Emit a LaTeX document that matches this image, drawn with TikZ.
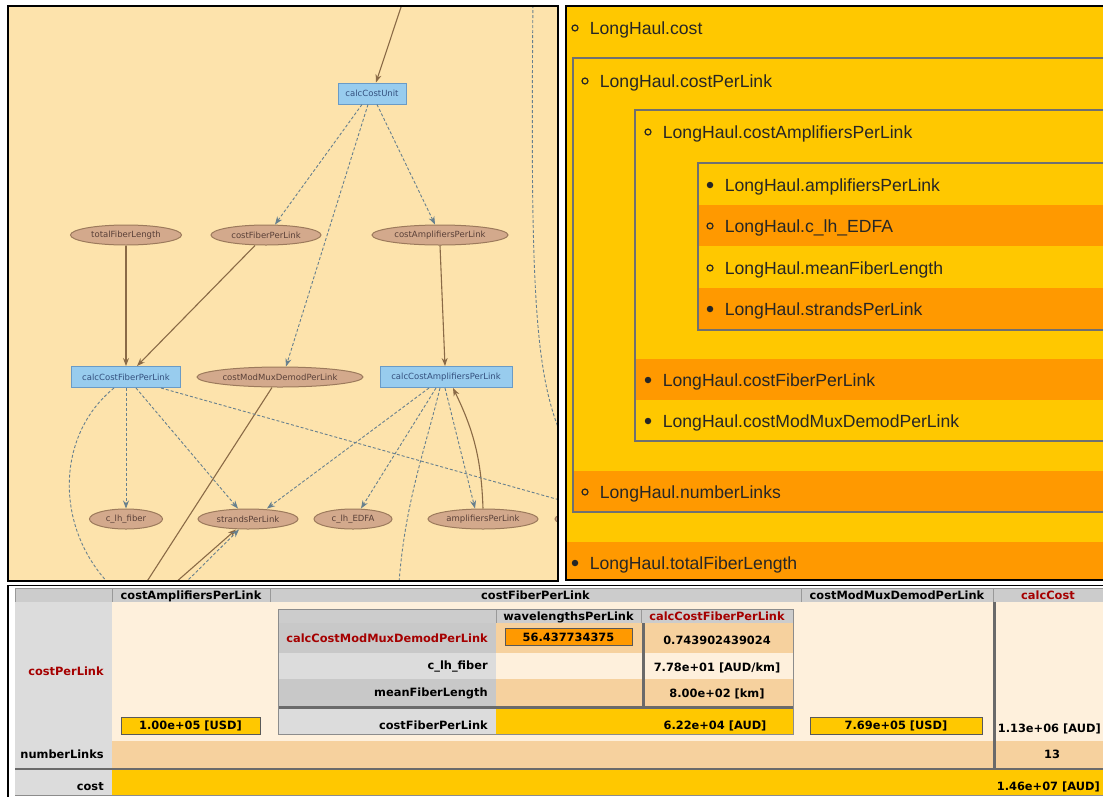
\documentclass[tikz,border=0pt]{standalone}
\usepackage{fontspec}
\usepackage{tikz}
\usetikzlibrary{positioning,shapes.geometric,arrows.meta}
\newfontfamily\panelfont{Liberation Sans}
\newfontfamily\tablefont{DejaVu Sans}
\newfontfamily\graphfont{DejaVu Sans}
\definecolor{graphbg}{HTML}{FDE3AC}
\definecolor{varfill}{HTML}{D3A98C}
\definecolor{vardraw}{HTML}{9C7A5C}
\definecolor{vartext}{HTML}{5A4038}
\definecolor{calcfill}{HTML}{98CCEE}
\definecolor{calcdraw}{HTML}{6A9BC6}
\definecolor{calctext}{HTML}{34507E}
\definecolor{solidedge}{HTML}{8A6A46}
\definecolor{dashedge}{HTML}{67808E}
\definecolor{paneyellow}{HTML}{FFC800}
\definecolor{paneorange}{HTML}{FF9900}
\definecolor{boxgray}{HTML}{707070}
\definecolor{headgray}{HTML}{CCCCCC}
\definecolor{labelgray}{HTML}{DCDCDC}
\definecolor{darkcell}{HTML}{C8C8C8}
\definecolor{cellcream}{HTML}{FEF0DC}
\definecolor{celltan}{HTML}{F6D19E}
\definecolor{calcred}{HTML}{A50000}
\definecolor{rulegray}{HTML}{6A6A6A}

\begin{document}
\begin{tikzpicture}[x=1pt, y=-1pt, semithick,
    varnode/.style={ellipse, fill=varfill, draw=vardraw, line width=1pt, inner sep=0pt,
      minimum height=20pt, text=vartext, font=\graphfont\fontsize{8.5}{9}\selectfont},
    calcnode/.style={rectangle, fill=calcfill, draw=calcdraw, line width=1pt, inner sep=0pt,
      minimum height=21pt, text=calctext, font=\graphfont\fontsize{8.5}{9}\selectfont},
    depline/.style={solidedge, line width=1.1pt, -{Stealth[length=8pt, width=6pt]}},
    useline/.style={dashedge, line width=0.9pt, dash pattern=on 3pt off 2pt,
      -{Stealth[length=8pt, width=6pt]}},
    hollow/.style={circle, draw=black!85, line width=1.2pt, inner sep=0pt, minimum size=6pt},
    filled/.style={circle, fill=black!85, inner sep=0pt, minimum size=6.5pt},
    rowtext/.style={anchor=west, inner sep=0pt, text height=12.6pt, text depth=0pt,
      text=black!85, font=\panelfont\fontsize{17.6}{20}\selectfont},
    tabtext/.style={inner sep=0pt, text height=8.3pt, text depth=0pt, text=black,
      font=\tablefont\bfseries\fontsize{11.4}{13}\selectfont},
    redtext/.style={tabtext, text=calcred},
    valbox/.style={tabtext, draw=black!65, line width=1pt, minimum height=17pt},
    headcell/.style={fill=headgray, draw=black!40, line width=0.8pt}]
  \useasboundingbox (0,0) rectangle (1103,796);
  \clip (0,0) rectangle (1103,796);

  % dependency graph
  \begin{scope}
    \clip (8,6) rectangle (558,581);
    \fill[graphbg] (8,6) rectangle (558,581);
    \node[calcnode, minimum width=68pt] (calcCostUnit) at (372,93.5) {calcCostUnit};
    \node[varnode, minimum width=111pt] (totalFiberLength) at (126,235) {totalFiberLength};
    \node[varnode, minimum width=110pt] (costFiberPerLink) at (266,235) {costFiberPerLink};
    \node[varnode, minimum width=136pt] (costAmplifiersPerLink) at (440,235) {costAmplifiersPerLink};
    \node[calcnode, minimum width=109pt] (calcCostFiberPerLink) at (126,377) {calcCostFiberPerLink};
    \node[varnode, minimum width=166pt] (costModMuxDemodPerLink) at (280,377) {costModMuxDemodPerLink};
    \node[calcnode, minimum width=132pt] (calcCostAmplifiersPerLink) at (446,377) {calcCostAmplifiersPerLink};
    \node[varnode, minimum width=73pt] (c_lh_fiber) at (126,519) {c\_lh\_fiber};
    \node[varnode, minimum width=100pt, right=122pt of c_lh_fiber.center, anchor=center] (strandsPerLink) {strandsPerLink};
    \node[varnode, minimum width=78pt, right=105pt of strandsPerLink.center, anchor=center] (c_lh_EDFA) {c\_lh\_EDFA};
    \node[varnode, minimum width=110pt, right=130pt of c_lh_EDFA.center, anchor=center] (amplifiersPerLink) {amplifiersPerLink};
    \node[varnode, minimum width=110pt, right=127pt of amplifiersPerLink.center, anchor=center] (clippedVar) {};

    \coordinate (topIn) at (405,-5);
    \coordinate (muxOut) at (135,600);
    \coordinate (strandsIn) at (167,590);
    \coordinate (strandsUseIn) at (178,590);
    \coordinate (fiberLoopOut) at (127,600);
    \coordinate (ampLoopOut) at (398,600);
    \coordinate (rightIn) at (533,-5);
    \coordinate (rightOut) at (580,470);

    \draw[depline] (topIn) -- ([xshift=4pt]calcCostUnit.north);
    \draw[depline] (totalFiberLength) -- (calcCostFiberPerLink);
    \draw[depline] ([xshift=-11pt]costFiberPerLink.south) -- ([xshift=11pt]calcCostFiberPerLink.north);
    \draw[depline] (costAmplifiersPerLink.south) -- ([xshift=-1pt]calcCostAmplifiersPerLink.north);
    \draw[depline] (amplifiersPerLink.north) to[bend right=12] ([xshift=7pt]calcCostAmplifiersPerLink.south);
    \draw[depline, -] ([xshift=-8pt]costModMuxDemodPerLink.south) -- (muxOut);
    \draw[depline] (strandsIn) -- ([xshift=-12pt]strandsPerLink.south);

    \draw[useline] ([xshift=-10pt]calcCostUnit.south) -- ([xshift=9pt]costFiberPerLink.north);
    \draw[useline] ([xshift=-4pt]calcCostUnit.south) -- ([xshift=6pt]costModMuxDemodPerLink.north);
    \draw[useline] ([xshift=5pt]calcCostUnit.south) -- ([xshift=-5pt]costAmplifiersPerLink.north);
    \draw[useline] (calcCostFiberPerLink) -- (c_lh_fiber);
    \draw[useline] ([xshift=10pt]calcCostFiberPerLink.south) -- ([xshift=-10pt]strandsPerLink.north);
    \draw[useline] ([xshift=35pt]calcCostFiberPerLink.south) -- ([xshift=-20pt]clippedVar.north);
    \draw[useline, -] ([xshift=-12pt]calcCostFiberPerLink.south) .. controls (50,440) and (55,545) .. (fiberLoopOut);
    \draw[useline] ([xshift=-17pt]calcCostAmplifiersPerLink.south) -- ([xshift=19pt]strandsPerLink.north);
    \draw[useline] ([xshift=-10pt]calcCostAmplifiersPerLink.south) -- ([xshift=8pt]c_lh_EDFA.north);
    \draw[useline] ([xshift=-1pt]calcCostAmplifiersPerLink.south) -- ([xshift=-8pt]amplifiersPerLink.north);
    \draw[useline, -] ([xshift=-6pt]calcCostAmplifiersPerLink.south) .. controls (425,450) and (402,510) .. (ampLoopOut);
    \draw[useline] (strandsUseIn) -- ([xshift=-9pt]strandsPerLink.south);
    \draw[useline, -] (rightIn) .. controls (530,330) and (535,400) .. (rightOut);
  \end{scope}
  \draw[black, line width=1.5pt] (8,6) rectangle (558,581);

  % nested value boxes
  \fill[paneyellow] (566,6) rectangle (1110,580);
  \fill[paneorange] (698,205) rectangle (1110,246);
  \fill[paneorange] (698,288) rectangle (1110,330);
  \fill[paneorange] (635,359) rectangle (1110,400);
  \fill[paneorange] (573,471) rectangle (1110,512);
  \fill[paneorange] (566,542) rectangle (1110,580);
  \draw[boxgray, line width=1.3pt] (573,58) rectangle (1120,512);
  \draw[boxgray, line width=1.3pt] (635,110) rectangle (1120,441);
  \draw[boxgray, line width=1.3pt] (698,163) rectangle (1120,330);
  \draw[black, line width=1.5pt] (566,6) rectangle (1120,580);

  \node[hollow] (costMark) at (575,28) {};
  \node[rowtext, right=11pt of costMark] (costRow) {LongHaul.cost};
  \node[hollow] (costPerLinkMark) at (585,81) {};
  \node[rowtext, right=11pt of costPerLinkMark] (costPerLinkRow) {LongHaul.costPerLink};
  \node[hollow] (costAmpMark) at (648,132) {};
  \node[rowtext, right=11pt of costAmpMark] (costAmpRow) {LongHaul.costAmplifiersPerLink};
  \node[filled] (ampMark) at (710,185) {};
  \node[rowtext, right=11pt of ampMark] (ampRow) {LongHaul.amplifiersPerLink};
  \node[hollow] (edfaMark) at (710,226) {};
  \node[rowtext, right=11pt of edfaMark] (edfaRow) {LongHaul.c\_lh\_EDFA};
  \node[hollow] (meanMark) at (710,268) {};
  \node[rowtext, right=11pt of meanMark] (meanRow) {LongHaul.meanFiberLength};
  \node[filled] (strandsMark) at (710,309) {};
  \node[rowtext, right=11pt of strandsMark] (strandsRow) {LongHaul.strandsPerLink};
  \node[filled] (fiberMark) at (648,380) {};
  \node[rowtext, right=11pt of fiberMark] (fiberRow) {LongHaul.costFiberPerLink};
  \node[filled] (muxMark) at (648,421) {};
  \node[rowtext, right=11pt of muxMark] (muxRow) {LongHaul.costModMuxDemodPerLink};
  \node[hollow] (linksMark) at (585,492) {};
  \node[rowtext, right=11pt of linksMark] (linksRow) {LongHaul.numberLinks};
  \node[filled] (totalMark) at (575,563) {};
  \node[rowtext, right=11pt of totalMark] (totalRow) {LongHaul.totalFiberLength};

  % evaluation table
  \draw[black, line width=1.2pt] (8,585.5) rectangle (1110,800);
  \draw[headcell] (15,588) rectangle (112,602);
  \draw[headcell] (112,588) rectangle (270,602);
  \draw[headcell] (270,588) rectangle (801,602);
  \draw[headcell] (801,588) rectangle (993,602);
  \draw[headcell] (993,588) rectangle (1110,602);
  \fill[labelgray] (15,602) rectangle (112,768);
  \fill[cellcream] (112,602) rectangle (1110,741);
  \fill[celltan] (112,741) rectangle (1110,768);
  \fill[labelgray] (15,770) rectangle (112,795);
  \fill[paneyellow] (112,770) rectangle (1110,795);
  \draw[rulegray, line width=3pt] (994.5,602) -- (994.5,768);
  \draw[rulegray, line width=2.5pt] (15,769) -- (1110,769);
  \draw[black!45, line width=1pt] (15,795.5) -- (1110,795.5);

  \node[tabtext] (ampHead) at (191,595.5) {costAmplifiersPerLink};
  \node[tabtext] (fiberHead) at (535.5,595.5) {costFiberPerLink};
  \node[tabtext] (muxHead) at (897,595.5) {costModMuxDemodPerLink};
  \node[redtext] (calcCostHead) at (1048,595.5) {calcCost};
  \node[redtext, anchor=east] (costPerLinkLabel) at (104,671) {costPerLink};
  \node[tabtext, anchor=east] (numberLinksLabel) at (104,754) {numberLinks};
  \node[tabtext, anchor=east] (costLabel) at (104,786) {cost};

  % inner table of costFiberPerLink
  \draw[headcell] (278,609) rectangle (496,623);
  \draw[headcell] (496,609) rectangle (641,623);
  \draw[headcell] (641,609) rectangle (793,623);
  \fill[darkcell] (278,623) rectangle (496,653);
  \fill[celltan] (496,623) rectangle (793,653);
  \fill[labelgray] (278,653) rectangle (496,679);
  \fill[cellcream] (496,653) rectangle (793,679);
  \fill[darkcell] (278,679) rectangle (496,707);
  \fill[celltan] (496,679) rectangle (793,707);
  \fill[labelgray] (278,709) rectangle (496,734);
  \fill[paneyellow] (496,709) rectangle (793,734);
  \draw[rulegray, line width=3pt] (643,623) -- (643,707);
  \draw[rulegray, line width=3pt] (278,707.5) -- (793,707.5);
  \draw[black!45, line width=1pt] (278,609) rectangle (793,734);

  \node[tabtext] (wlHead) at (568.5,616) {wavelengthsPerLink};
  \node[redtext] (calcFiberHead) at (717,616) {calcCostFiberPerLink};
  \node[redtext, anchor=east] (muxLabel) at (488,638) {calcCostModMuxDemodPerLink};
  \node[tabtext, anchor=east] (fiberCostLabel) at (488,665) {c\_lh\_fiber};
  \node[tabtext, anchor=east] (meanLabel) at (488,692) {meanFiberLength};
  \node[tabtext, anchor=east] (fiberSumLabel) at (488,725) {costFiberPerLink};

  \node[valbox, fill=paneorange, minimum width=127pt] (wlValue) at (568.5,637) {56.437734375};
  \node[tabtext] (fracValue) at (717,640) {0.743902439024};
  \node[tabtext] (unitCostValue) at (717,667) {7.78e+01 [AUD/km]};
  \node[tabtext] (meanValue) at (717,693) {8.00e+02 [km]};
  \node[tabtext] (fiberValue) at (715,725) {6.22e+04 [AUD]};
  \node[valbox, fill=paneyellow, minimum width=139pt] (ampValue) at (190.5,725.5) {1.00e+05 [USD]};
  \node[valbox, fill=paneyellow, minimum width=172pt] (muxValue) at (896,725.5) {7.69e+05 [USD]};
  \node[tabtext, anchor=east] (perLinkValue) at (1101,728) {1.13e+06 [AUD]};
  \node[tabtext] (linksValue) at (1052,754) {13};
  \node[tabtext, anchor=east] (costValue) at (1100,786) {1.46e+07 [AUD]};
\end{tikzpicture}
\end{document}
